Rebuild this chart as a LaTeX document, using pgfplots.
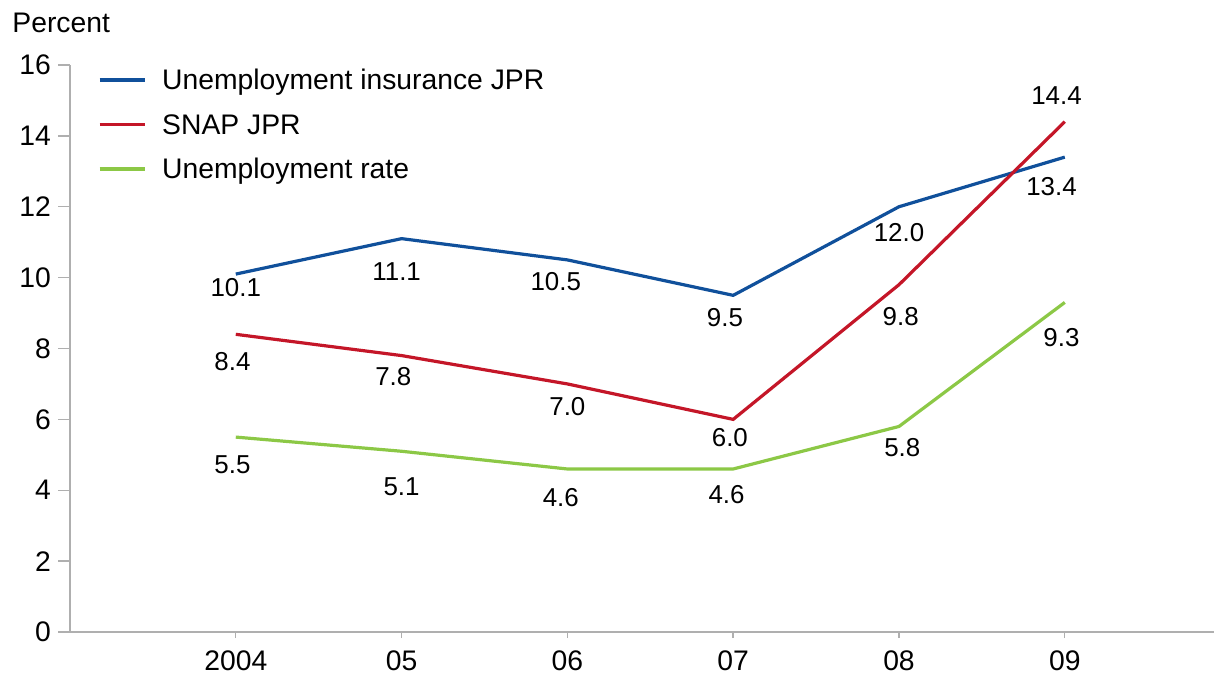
\documentclass[border=0pt]{standalone}
\usepackage{fontspec}
\setmainfont{Liberation Sans}
\usepackage{pgfplots}
\pgfplotsset{compat=1.18}
\definecolor{uiblue}{RGB}{16,80,155}
\definecolor{snapred}{RGB}{196,22,40}
\definecolor{urgreen}{RGB}{140,200,70}
\definecolor{axgray}{RGB}{175,175,175}
\begin{document}
\begin{tikzpicture}
\begin{axis}[
  scale only axis, width=572bp, height=283.5bp,
  xmin=-1, xmax=5.9, ymin=0, ymax=16,
  clip=false,
  axis x line*=bottom, axis y line*=left,
  axis line style={-, draw=axgray, line width=1bp},
  xtick={0,...,5}, xticklabels={2004,05,06,07,08,09},
  ytick={0,2,...,16},
  tick align=outside, major tick length=6bp,
  tick style={draw=axgray, line width=0.7bp},
  xtick style={/pgfplots/major tick length=3bp},
  ticklabel style={font=\fontsize{14.2}{16}\selectfont},
  /pgf/number format/assume math mode=true,
  legend style={draw=none, fill=none, at={(0.0245,0.993)}, anchor=north west,
    inner sep=0pt, outer sep=0pt, row sep=8.75bp, column sep=8bp,
    font=\fontsize{14.2}{16}\selectfont,
    nodes={inner sep=0pt, text height=10.5bp, text depth=3bp, anchor=base west}},
  legend cell align=left,
  legend image code/.code={\draw[#1, line width=1.6bp] (0bp,5bp) -- (22.5bp,5bp);},
  every axis plot/.append style={line width=1.6bp, mark=none},
]
\addplot[uiblue] coordinates {(0,10.1)(1,11.1)(2,10.5)(3,9.5)(4,12.0)(5,13.4)};
\addlegendentry{Unemployment insurance JPR}
\addplot[snapred] coordinates {(0,8.4)(1,7.8)(2,7.0)(3,6.0)(4,9.8)(5,14.4)};
\addlegendentry{SNAP JPR}
\addplot[urgreen] coordinates {(0,5.5)(1,5.1)(2,4.6)(3,4.6)(4,5.8)(5,9.3)};
\addlegendentry{Unemployment rate}
\begin{scope}[every node/.style={inner sep=0pt, font=\fontsize{13}{15}\selectfont}]
\node at (axis cs:0,9.71) {10.1};
\node at (axis cs:0.97,10.16) {11.1};
\node at (axis cs:1.93,9.88) {10.5};
\node at (axis cs:2.95,8.86) {9.5};
\node at (axis cs:4.0,11.26) {12.0};
\node at (axis cs:4.92,12.56) {13.4};
\node at (axis cs:-0.02,7.62) {8.4};
\node at (axis cs:0.95,7.20) {7.8};
\node at (axis cs:2.0,6.35) {7.0};
\node at (axis cs:2.98,5.50) {6.0};
\node at (axis cs:4.01,8.89) {9.8};
\node at (axis cs:4.95,15.15) {14.4};
\node at (axis cs:-0.02,4.71) {5.5};
\node at (axis cs:1.0,4.09) {5.1};
\node at (axis cs:1.96,3.78) {4.6};
\node at (axis cs:2.96,3.87) {4.6};
\node at (axis cs:4.02,5.19) {5.8};
\node at (axis cs:4.98,8.30) {9.3};
\end{scope}
\end{axis}
\node[anchor=base west, inner sep=0pt, font=\fontsize{14.2}{16}\selectfont] at (-29bp,299.5bp) {Percent};
\pgfresetboundingbox
\path (-35bp,-21.5bp) rectangle (572bp,316bp);
\end{tikzpicture}
\end{document}
